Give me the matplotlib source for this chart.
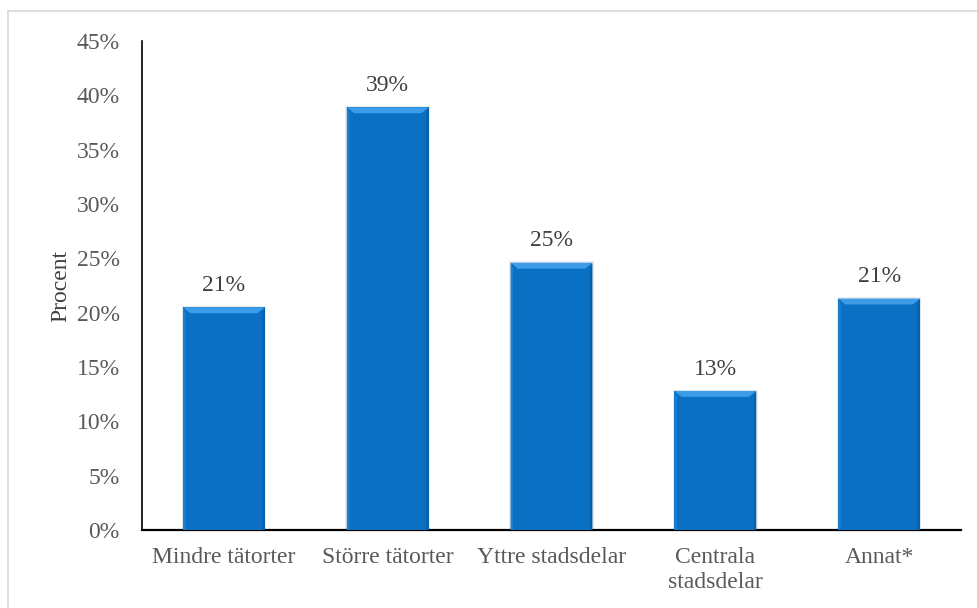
import matplotlib.pyplot as plt
from matplotlib.patches import Polygon
from matplotlib.lines import Line2D
import numpy as np

plt.rcParams['font.family'] = ['Liberation Serif', 'DejaVu Serif']

categories = ["Mindre tätorter", "Större tätorter", "Yttre stadsdelar",
              "Centrala\nstadsdelar", "Annat*"]
values = [20.5, 38.9, 24.6, 12.8, 21.3]
labels = ["21%", "39%", "25%", "13%", "21%"]
yticks = [0, 5, 10, 15, 20, 25, 30, 35, 40, 45]

W, H = 977, 608
fs = 17
fig = plt.figure(figsize=(W / 100, H / 100), dpi=100)
ax = fig.add_axes([142 / W, 1 - 530 / H, (961 - 142) / W, (530 - 41) / H])

x = np.arange(len(categories))
bw = 0.5
bars = ax.bar(x, values, width=bw, color="#0a70c4", edgecolor="none", zorder=3)

# bevel look: lighter top strip, slightly lighter left edge, darker right edge
for b in bars:
    x0, w, h = b.get_x(), b.get_width(), b.get_height()
    dx, dy = w * 0.09, 0.55
    top = Polygon([[x0, h], [x0 + w, h], [x0 + w - dx, h - dy], [x0 + dx, h - dy]],
                  closed=True, facecolor="#3d9ce8", edgecolor="none", zorder=4)
    ax.add_patch(top)
    left = Polygon([[x0, h], [x0 + dx * 0.35, h - dy], [x0 + dx * 0.35, 0], [x0, 0]],
                   closed=True, facecolor="#1b80d2", edgecolor="none", zorder=4)
    ax.add_patch(left)
    right = Polygon([[x0 + w, h], [x0 + w - dx * 0.35, h - dy], [x0 + w - dx * 0.35, 0], [x0 + w, 0]],
                    closed=True, facecolor="#0660aa", edgecolor="none", zorder=4)
    ax.add_patch(right)
    sh = plt.Rectangle((x0 - 0.008, 0), w + 0.016, h + 0.12,
                       facecolor="#000000", alpha=0.08, edgecolor="none", zorder=2)
    ax.add_patch(sh)

for xi, v, lab in zip(x, values, labels):
    ax.text(xi, v + 2.0, lab, ha="center", va="center", fontsize=fs, color="#404040")

ax.set_xlim(-0.5, len(categories) - 0.5)
ax.set_ylim(0, 45)
ax.set_yticks(yticks)
ax.set_yticklabels([f"{t}%" for t in yticks], fontsize=fs, color="#595959")
ax.set_xticks(x)
ax.set_xticklabels(categories, fontsize=fs, color="#595959", linespacing=1.25)
ax.tick_params(axis="both", length=0)
ax.tick_params(axis="x", pad=12)
ax.tick_params(axis="y", pad=16)
ax.set_ylabel("Procent", fontsize=fs, color="#404040", labelpad=4)

for s in ["top", "right"]:
    ax.spines[s].set_visible(False)
ax.spines["left"].set_color("black")
ax.spines["left"].set_linewidth(1.2)
ax.spines["bottom"].set_color("black")
ax.spines["bottom"].set_linewidth(1.6)

# chart frame (top and left edges visible)
fig.add_artist(Line2D([8 / W, 1], [1 - 11 / H, 1 - 11 / H], color="#d9d9d9", lw=1.2))
fig.add_artist(Line2D([8 / W, 8 / W], [0, 1 - 11 / H], color="#d9d9d9", lw=1.2))

fig.savefig("out.png", dpi=100)
